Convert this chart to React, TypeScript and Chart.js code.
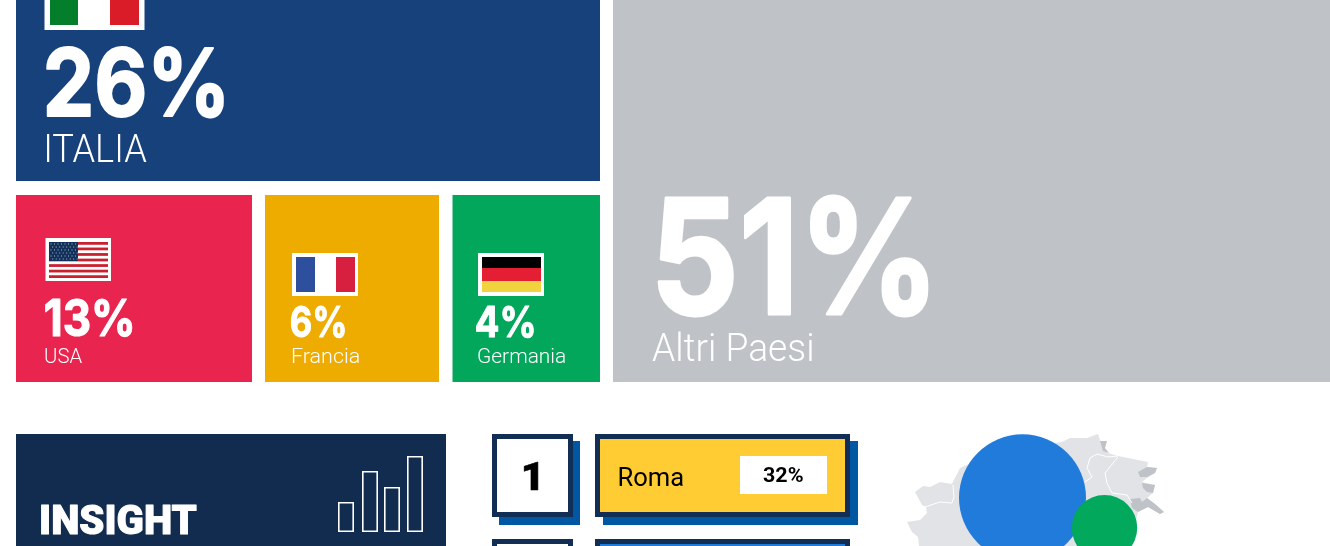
import React, { useEffect, useRef } from "react";
import { Chart, registerables } from "chart.js";

Chart.register(...registerables);

// ---- data ----
const countries = ["ITALIA", "USA", "Francia", "Germania", "Altri Paesi"];
const countryShares = [26, 13, 6, 4, 51];
const cityRanks = [1];
const cities = ["Roma"];
const cityShares = [32];
const bubbleShares = [32, 8.5];
const insightTitle = "INSIGHT";
const insightIconValues = [30, 61, 45, 76];

// ---- layout and styles (not data) ----
const W = 1330;
const H = 546;
const FONT = "Roboto, 'Noto Sans', sans-serif";
const NUM = "Inter, Roboto, sans-serif";
const cellBoxes = [
  { x0: 16, x1: 600, y0: -20, y1: 181, color: "#17417a" },
  { x0: 16, x1: 252, y0: 195, y1: 382, color: "#e9254f" },
  { x0: 265, x1: 439, y0: 195, y1: 382, color: "#eeab00" },
  { x0: 452.5, x1: 600, y0: 195, y1: 382, color: "#02a75c" },
  { x0: 613, x1: 1330, y0: -20, y1: 382, color: "#bfc2c7" },
];
const bubbleCentres = [
  { x: 1022.5, y: 497.8, color: "#217bdb" },
  { x: 1104.5, y: 527.8, color: "#02a85c" },
];
const BUBBLE_K = 63.5 / Math.sqrt(32);
const NAVY = "#122e55";
const SHADOW = "#0257a3";

type Box = { x0: number; x1: number; y0: number; y1: number; color: string; border?: string; bw?: number };
const iconXs = [338, 362, 384, 407];
const ICON_BASE = 532;
const decorBoxes: Box[] = [
  { x0: 16, x1: 446, y0: 434, y1: 600, color: "#122c4f" },
  ...insightIconValues.map((v, i) => ({
    x0: iconXs[i], x1: iconXs[i] + 16, y0: ICON_BASE - v, y1: ICON_BASE, color: "rgba(0,0,0,0)", border: "#ffffff", bw: 1.6,
  })),
  // rank row 1
  { x0: 499, x1: 580, y0: 441, y1: 525, color: SHADOW },
  { x0: 492, x1: 573, y0: 434, y1: 517, color: "#ffffff", border: NAVY, bw: 5 },
  { x0: 603, x1: 858, y0: 441, y1: 525, color: SHADOW },
  { x0: 595, x1: 850, y0: 434, y1: 517, color: "#ffcc33", border: NAVY, bw: 5 },
  { x0: 740, x1: 827, y0: 456, y1: 494, color: "#ffffff" },
  // rank row 2 (cut by the page)
  { x0: 492, x1: 573, y0: 539, y1: 640, color: "#ffffff", border: NAVY, bw: 5 },
  { x0: 595, x1: 850, y0: 539, y1: 640, color: "#217bdb", border: NAVY, bw: 5 },
];

type Label = { text: string; x: number; y: number; w: number; size: number; weight: number; color: string; font?: string; stroke?: number };
const labels: Label[] = [
  { text: `${countryShares[0]}%`, x: 47, y: 116, w: 176, size: 94, weight: 700, color: "#fff", font: NUM, stroke: 2 },
  { text: countries[0], x: 46, y: 162, w: 101, size: 38, weight: 300, color: "#fff" },
  { text: `${countryShares[1]}%`, x: 45.5, y: 335.5, w: 87, size: 51, weight: 700, color: "#fff", font: NUM, stroke: 1.2 },
  { text: countries[1], x: 45, y: 363, w: 37, size: 21, weight: 300, color: "#fff" },
  { text: `${countryShares[2]}%`, x: 290.5, y: 336.5, w: 54, size: 43, weight: 700, color: "#fff", font: NUM, stroke: 1 },
  { text: countries[2], x: 292, y: 363, w: 67, size: 21, weight: 300, color: "#fff" },
  { text: `${countryShares[3]}%`, x: 476.5, y: 336.5, w: 57, size: 43, weight: 700, color: "#fff", font: NUM, stroke: 1 },
  { text: countries[3], x: 478, y: 363, w: 87, size: 21, weight: 300, color: "#fff" },
  { text: `${countryShares[4]}%`, x: 659, y: 314, w: 268, size: 160, weight: 700, color: "#fff", font: NUM, stroke: 3 },
  { text: countries[4], x: 652, y: 361, w: 160, size: 38, weight: 300, color: "#fff" },
  { text: insightTitle, x: 41, y: 534, w: 156, size: 41, weight: 900, color: "#fff", stroke: 1 },
  { text: String(cityRanks[0]), x: 524, y: 490, w: 14, size: 39, weight: 900, color: "#000", stroke: 0.6 },
  { text: cities[0], x: 619.5, y: 486, w: 64, size: 25, weight: 400, color: "#000" },
  { text: `${cityShares[0]}%`, x: 763, y: 482, w: 40, size: 21, weight: 700, color: "#000" },
];

// map tracing, in page pixels
const mapOutline = [
  [1062, 442], [1070, 438], [1087, 438], [1098, 434], [1100, 440], [1103, 448], [1108, 453], [1118, 456],
  [1148, 462], [1147, 467], [1157, 468], [1155, 473], [1147, 478], [1142, 482], [1155, 485], [1153, 493],
  [1147, 498], [1155, 504], [1164, 512], [1160, 514], [1148, 507], [1138, 512], [1130, 546], [919, 546],
  [918, 537], [912, 532], [907, 522], [920, 520], [927, 513], [926, 507], [922, 505], [915, 492], [923, 486],
  [930, 487], [940, 482], [952, 484], [960, 468], [1000, 450],
];
const mapDark = [
  [[1100, 441], [1107, 441], [1105, 448], [1109, 453], [1103, 451]],
  [[1138, 472], [1147, 467], [1157, 468], [1155, 473], [1147, 477], [1140, 477]],
  [[1142, 483], [1155, 485], [1153, 493], [1147, 492], [1143, 488]],
  [[1130, 499], [1140, 498], [1142, 502], [1147, 498], [1155, 504], [1164, 512], [1160, 514], [1148, 507], [1138, 512], [1132, 508]],
];
const mapBorders = [
  [[925, 507], [940, 502], [952, 503], [954, 497], [953, 485]],
  [[1085, 482], [1092, 477], [1087, 468], [1090, 458], [1097, 454], [1108, 457], [1118, 456]],
  [[1118, 457], [1105, 473], [1107, 483], [1112, 493], [1127, 495], [1132, 503]],
];

const path = (ctx: CanvasRenderingContext2D, pts: number[][], close: boolean) => {
  ctx.beginPath();
  pts.forEach(([x, y], i) => (i ? ctx.lineTo(x, y) : ctx.moveTo(x, y)));
  if (close) ctx.closePath();
};

const mapPlugin = {
  id: "mapBackdrop",
  beforeDatasetsDraw(chart: Chart) {
    const ctx = chart.ctx;
    ctx.save();
    path(ctx, mapOutline, true);
    ctx.fillStyle = "#e1e3e7";
    ctx.fill();
    mapDark.forEach((p) => {
      path(ctx, p, true);
      ctx.fillStyle = "#bfc2c7";
      ctx.fill();
    });
    ctx.strokeStyle = "#ffffff";
    ctx.lineWidth = 1;
    mapBorders.forEach((p) => {
      path(ctx, p, false);
      ctx.stroke();
    });
    ctx.restore();
  },
};

const fillR = (ctx: CanvasRenderingContext2D, c: string, x0: number, y0: number, x1: number, y1: number) => {
  ctx.fillStyle = c;
  ctx.fillRect(x0, y0, x1 - x0, y1 - y0);
};

const drawFlags = (ctx: CanvasRenderingContext2D) => {
  // Italy
  fillR(ctx, "#fff", 44.5, 0, 144.5, 30);
  fillR(ctx, "#047e2a", 50, 0, 78, 25);
  fillR(ctx, "#d91c27", 110, 0, 139, 25);
  // USA
  fillR(ctx, "#fff", 45.5, 238, 111, 281);
  const sh = 36 / 13;
  for (let i = 0; i < 13; i += 2) fillR(ctx, "#c9202f", 49, 242 + i * sh, 108, 242 + (i + 1) * sh);
  fillR(ctx, "#12305a", 49, 242, 78, 261);
  ctx.fillStyle = "rgba(220,230,240,0.75)";
  for (let r = 0; r < 6; r++) for (let c = 0; c < 8; c++) ctx.fillRect(50.5 + c * 3.5 + (r % 2) * 1.7, 243.5 + r * 3, 1, 1);
  // France
  fillR(ctx, "#fff", 292, 253, 358, 296);
  fillR(ctx, "#2d4f9e", 296, 257, 315, 292);
  fillR(ctx, "#d72040", 336, 257, 355, 292);
  // Germany
  fillR(ctx, "#fff", 478, 253, 544, 296);
  fillR(ctx, "#000", 482, 257, 541, 268);
  fillR(ctx, "#e41f33", 482, 268, 541, 281);
  fillR(ctx, "#f1d33f", 482, 281, 541, 292);
};

const overlayPlugin = {
  id: "overlay",
  afterDatasetsDraw(chart: Chart) {
    const ctx = chart.ctx;
    ctx.save();
    drawFlags(ctx);
    ctx.textBaseline = "alphabetic";
    ctx.textAlign = "left";
    ctx.lineJoin = "round";
    labels.forEach((l) => {
      ctx.font = `${l.weight} ${l.size}px ${l.font ?? FONT}`;
      ctx.fillStyle = l.color;
      const m = ctx.measureText(l.text);
      const ink = m.actualBoundingBoxRight + m.actualBoundingBoxLeft;
      const sx = l.w / ink;
      ctx.save();
      ctx.translate(l.x, l.y);
      ctx.scale(sx, 1);
      ctx.fillText(l.text, m.actualBoundingBoxLeft, 0);
      if (l.stroke) {
        ctx.strokeStyle = l.color;
        ctx.lineWidth = l.stroke;
        ctx.strokeText(l.text, m.actualBoundingBoxLeft, 0);
      }
      ctx.restore();
    });
    ctx.restore();
  },
};

const barDataset = (b: Box, order: number) => ({
  type: "bar" as const,
  stack: "all",
  order,
  barThickness: b.x1 - b.x0,
  data: [{ x: (b.x0 + b.x1) / 2, y: [b.y0, b.y1] }],
  backgroundColor: b.color,
  borderColor: b.border ?? b.color,
  borderWidth: b.bw ?? 0,
  borderSkipped: false,
  inflateAmount: 0,
});

export default function App() {
  const ref = useRef<HTMLCanvasElement>(null);
  useEffect(() => {
    const boxes: Box[] = [...cellBoxes, ...decorBoxes];
    const datasets: any[] = boxes.map((b, i) => barDataset(b, 100 - i));
    datasets.push({
      type: "bubble",
      order: 2,
      data: [{ x: bubbleCentres[0].x, y: bubbleCentres[0].y, r: BUBBLE_K * Math.sqrt(bubbleShares[0]) }],
      backgroundColor: bubbleCentres[0].color,
      borderWidth: 0,
    });
    datasets.push({
      type: "bubble",
      order: 1,
      data: [{ x: bubbleCentres[1].x, y: bubbleCentres[1].y, r: BUBBLE_K * Math.sqrt(bubbleShares[1]) }],
      backgroundColor: bubbleCentres[1].color,
      borderWidth: 0,
    });
    const chart = new Chart(ref.current as HTMLCanvasElement, {
      data: { datasets },
      plugins: [mapPlugin, overlayPlugin],
      options: {
        animation: false,
        responsive: false,
        devicePixelRatio: 1,
        events: [],
        layout: { padding: 0, autoPadding: false },
        plugins: { legend: { display: false }, tooltip: { enabled: false }, title: { display: false } },
        scales: {
          x: { type: "linear", min: 0, max: W, offset: false, display: false },
          y: { type: "linear", min: 0, max: H, reverse: true, stacked: false, display: false },
        },
      },
    } as any);
    return () => chart.destroy();
  }, []);
  return (
    <div style={{ position: "fixed", left: 0, top: 0, width: W, height: H, background: "#fff", overflow: "hidden" }}>
      <canvas ref={ref} width={W} height={H} style={{ display: "block" }} />
    </div>
  );
}
